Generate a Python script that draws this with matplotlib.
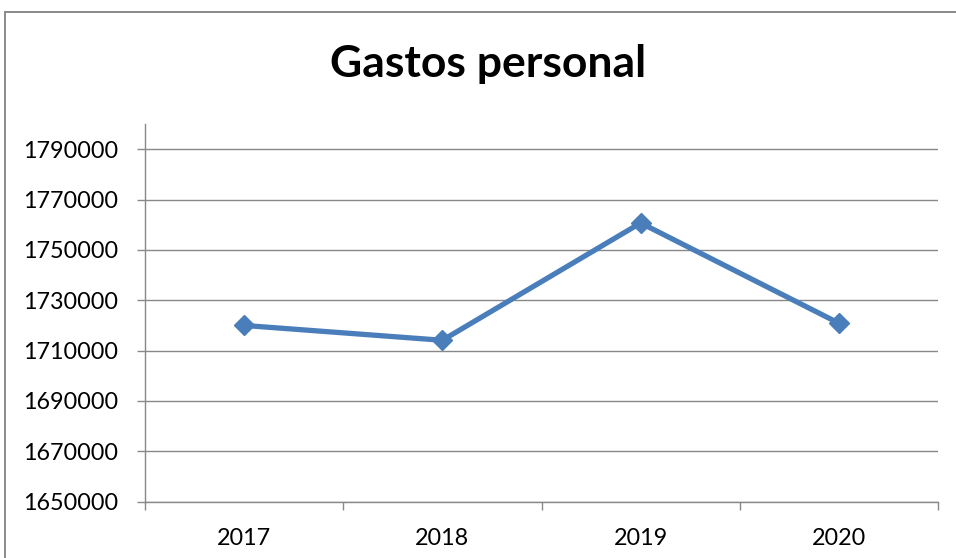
import matplotlib.pyplot as plt
from matplotlib.patches import Rectangle
from matplotlib.ticker import FixedLocator, NullFormatter

years = ["2017", "2018", "2019", "2020"]
gastos = [1720000, 1714100, 1760700, 1720900]
y_ticks = list(range(1650000, 1790001, 20000))

plt.rcParams["font.family"] = ["Lato", "DejaVu Sans"]

W, H = 956, 558
fig = plt.figure(figsize=(W / 100, H / 100), dpi=100)
ax = fig.add_axes([145 / W, 1 - 501.7 / H, (938 - 145) / W, (501.7 - 124) / H])

xs = list(range(len(years)))
ax.plot(xs, gastos, color="#4a7ebb", lw=3.8, marker="D", ms=10.5,
        markerfacecolor="#4a7ebb", markeredgecolor="#4a7ebb", zorder=3)

ax.set_xlim(-0.5, len(years) - 0.5)
ax.set_ylim(1650000, 1800000)
ax.set_yticks(y_ticks)
ax.set_yticklabels([str(v) for v in y_ticks])
ax.yaxis.grid(True, color="#888888", lw=1.0)
ax.set_axisbelow(True)

# category boundaries get the tick marks, category centres get the labels
ax.xaxis.set_major_locator(FixedLocator([i - 0.5 for i in range(len(years) + 1)]))
ax.xaxis.set_major_formatter(NullFormatter())
ax.xaxis.set_minor_locator(FixedLocator(xs))
ax.set_xticklabels(years, minor=True)
ax.tick_params(axis="x", which="major", length=6, width=1, color="#888888")
ax.tick_params(axis="x", which="minor", length=0, pad=19, labelsize=16.8)
ax.tick_params(axis="y", length=6, width=1, color="#888888", pad=13, labelsize=16.8)

for s in ["top", "right"]:
    ax.spines[s].set_visible(False)
for s in ["left", "bottom"]:
    ax.spines[s].set_color("#888888")
    ax.spines[s].set_linewidth(1.0)

fig.text(488 / W, 1 - 64 / H, "Gastos personal", ha="center", va="center",
         fontsize=32, fontweight="bold")

fig.patches.append(Rectangle((4.5 / W, -0.1), 2, 1.1 - 12.5 / H,
                             transform=fig.transFigure, fill=False,
                             ec="#8a8a8a", lw=1.4))

fig.savefig("out.png", dpi=100)
